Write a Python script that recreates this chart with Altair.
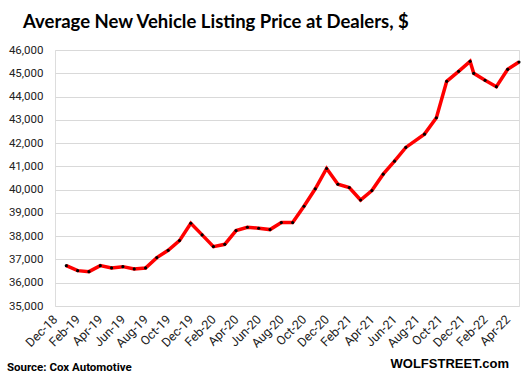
import json
import altair as alt
import pandas as pd

# ---- data -----------------------------------------------------------------
dates = [
    "2019-01-01", "2019-02-01", "2019-03-01", "2019-04-01", "2019-05-01", "2019-06-01",
    "2019-07-01", "2019-08-01", "2019-09-01", "2019-10-01", "2019-11-01", "2019-12-01",
    "2020-01-01", "2020-02-01", "2020-03-01", "2020-04-01", "2020-05-01", "2020-06-01",
    "2020-07-01", "2020-08-01", "2020-09-01", "2020-10-01", "2020-11-01", "2020-12-01",
    "2021-01-01", "2021-02-01", "2021-03-01", "2021-04-01", "2021-05-01", "2021-06-01",
    "2021-07-01", "2021-08-21", "2021-09-22", "2021-10-20", "2021-11-21", "2021-12-22",
    "2022-01-01", "2022-02-01", "2022-03-01", "2022-04-01", "2022-05-01",
]
prices = [
    36734, 36519, 36476, 36734, 36635, 36691,
    36592, 36635, 37079, 37393, 37810, 38555,
    38056, 37552, 37651, 38241, 38383, 38340,
    38284, 38585, 38585, 39286, 40035, 40909,
    40233, 40091, 39553, 39960, 40664, 41223,
    41813, 42385, 43090, 44653, 45084, 45514,
    44997, 44696, 44425, 45170, 45484,
]
x_tick_labels = [
    "Dec-18", "Feb-19", "Apr-19", "Jun-19", "Aug-19", "Oct-19", "Dec-19",
    "Feb-20", "Apr-20", "Jun-20", "Aug-20", "Oct-20", "Dec-20",
    "Feb-21", "Apr-21", "Jun-21", "Aug-21", "Oct-21", "Dec-21",
    "Feb-22", "Apr-22",
]
y_ticks = [35000, 36000, 37000, 38000, 39000, 40000, 41000, 42000, 43000, 44000, 45000, 46000]

title_text = "Average New Vehicle Listing Price at Dealers, $"
source_text = "Source: Cox Automotive"
brand_text = "WOLFSTREET.com"

# ---- build table ------------------------------------------------------------
d = pd.to_datetime(pd.Series(dates))
month_idx = (d.dt.year - 2018) * 12 + d.dt.month - 12 + (d.dt.day - 1) / d.dt.days_in_month
df = pd.DataFrame({"m": month_idx, "price": prices})

label_expr = json.dumps(x_tick_labels) + "[round(datum.value / 2)]"

W, H = 464, 256
PL, PT = 55, 50

x_enc = alt.X(
    "m:Q",
    scale=alt.Scale(domain=[0, 41], nice=False, zero=False),
    axis=alt.Axis(
        values=list(range(0, 41, 2)), labelExpr=label_expr, title=None,
        grid=False, domain=False, ticks=False,
        labelAngle=315, labelAlign="right", labelBaseline="middle",
        labelPadding=11, labelFont="Roboto", labelFontSize=12.5,
        labelColor="#222222", labelOverlap=False, labelBound=False,
        labelFlush=False,
    ),
)
y_enc = alt.Y(
    "price:Q",
    scale=alt.Scale(domain=[35000, 46000], nice=False, zero=False),
    axis=alt.Axis(
        values=y_ticks, format=",.0f", title=None, domain=False, ticks=False,
        grid=True, gridColor="#d9d9d9", gridWidth=1,
        labelFont="Roboto", labelFontSize=11.5, labelColor="#222222",
        labelPadding=12,
    ),
)

base = alt.Chart(df)
line = base.mark_line(color="#ff0000", strokeWidth=3.5).encode(x=x_enc, y=y_enc)
pts = base.mark_point(filled=True, color="#000000", size=10, opacity=1).encode(x=x_enc, y=y_enc)

src = alt.Chart(pd.DataFrame({"t": [source_text]})).mark_text(
    font="Roboto", fontSize=11.5, fontWeight="bold", align="left",
    baseline="alphabetic", color="#000000",
).encode(text="t:N", x=alt.value(7 - PL), y=alt.value(371 - PT))

brand = alt.Chart(pd.DataFrame({"t": [brand_text]})).mark_text(
    font="Liberation Sans", fontSize=13, fontWeight="bold", align="right",
    baseline="alphabetic", color="#000000",
).encode(text="t:N", x=alt.value(509 - PL), y=alt.value(368 - PT))

chart = (
    alt.layer(line, pts, src, brand)
    .properties(
        width=W, height=H,
        autosize=alt.AutoSizeParams(type="none"),
        padding={"left": PL, "top": PT, "right": 524 - PL - W, "bottom": 377 - PT - H},
        title=alt.Title(
            title_text, anchor="start", frame="group", font="Lato", fontSize=18.5,
            fontWeight="bold", color="#000000", dx=23 - PL, offset=13,
        ),
    )
    .configure_view(stroke=None)
    .configure(background="#ffffff")
)

chart.save("out.html", embed_options={"renderer": "svg", "actions": False})
